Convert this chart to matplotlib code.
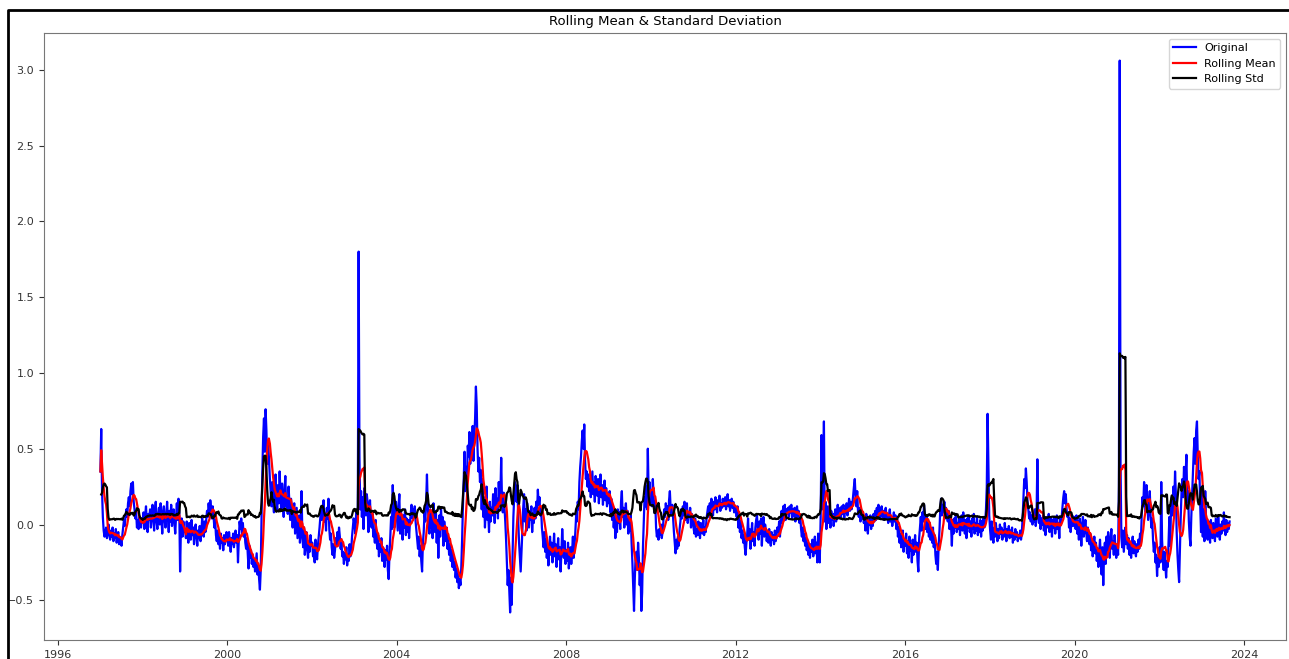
import pandas as pd
import matplotlib
matplotlib.use("Agg")
import matplotlib.pyplot as plt
import matplotlib.dates as mdates
from matplotlib.lines import Line2D

# weekly observations, one list per year starting with the first Friday
y1997 = [0.35, 0.63, 0.22, 0.05, -0.04, -0.08, -0.06, -0.02, -0.09, -0.05, 0.00, -0.07, -0.10,
         -0.04, -0.08, -0.02, -0.11, -0.06, -0.09, -0.03, -0.12, -0.08, -0.05, -0.13, -0.09, -0.11,
         -0.14, -0.07, -0.02, 0.03, -0.01, 0.06, 0.10, 0.05, 0.14, 0.18, 0.12, 0.22, 0.27,
         0.20, 0.28, 0.15, 0.10, 0.04, 0.08, -0.02, 0.03, -0.03, 0.05, 0.01, -0.02, 0.04]
y1998 = [0.02, 0.08, -0.03, 0.06, 0.12, 0.01, -0.05, 0.07, 0.03, 0.10, -0.02, 0.05, 0.13,
         0.04, -0.04, 0.09, 0.15, 0.02, -0.03, 0.06, 0.11, 0.00, 0.14, 0.05, -0.06, 0.08,
         0.12, 0.03, -0.02, 0.07, 0.15, 0.04, -0.05, 0.09, 0.02, 0.13, -0.01, 0.06, 0.10,
         0.01, -0.06, 0.05, 0.14, 0.03, 0.17, 0.08, -0.31, -0.02, 0.04, -0.08, 0.02, -0.05]
y1999 = [-0.03, -0.09, 0.02, -0.06, -0.12, 0.01, -0.04, -0.10, 0.03, -0.07, -0.02, -0.13, -0.05,
         0.00, -0.08, -0.14, -0.04, -0.09, -0.01, -0.11, -0.06, 0.04, -0.03, -0.08, 0.02, -0.05,
         0.03, 0.09, 0.05, 0.14, 0.08, 0.16, 0.11, 0.04, 0.12, 0.06, -0.02, 0.03, -0.07,
         -0.11, -0.04, -0.13, -0.08, -0.16, -0.06, -0.12, -0.09, -0.17, -0.07, -0.13, -0.10, -0.05]
y2000 = [-0.08, -0.14, -0.05, -0.11, -0.18, -0.09, -0.13, -0.06, -0.15, -0.10, -0.04, -0.12, -0.07,
         -0.25, -0.10, 0.02, -0.03, 0.04, -0.06, 0.01, -0.08, -0.03, -0.12, -0.16, -0.09, -0.19,
         -0.29, -0.14, -0.22, -0.17, -0.26, -0.20, -0.28, -0.23, -0.31, -0.25, -0.19, -0.33, -0.27,
         -0.36, -0.43, -0.30, 0.05, 0.35, 0.58, 0.70, 0.48, 0.76, 0.62, 0.40, 0.55, 0.45]
y2001 = [0.30, 0.22, 0.12, 0.28, 0.15, 0.08, 0.24, 0.33, 0.18, 0.10, 0.26, 0.14, 0.35,
         0.20, 0.09, 0.27, 0.16, 0.05, 0.22, 0.32, 0.12, 0.18, 0.07, 0.25, 0.15, 0.03,
         0.17, 0.10, -0.02, 0.08, 0.14, -0.06, 0.03, 0.11, -0.09, -0.01, 0.06, -0.12, -0.04,
         0.22, -0.08, -0.15, -0.02, -0.20, -0.10, -0.05, -0.17, -0.22, -0.11, -0.18, -0.07, -0.14]
y2002 = [-0.12, -0.21, -0.16, -0.25, -0.10, -0.19, -0.23, -0.14, -0.08, -0.02, 0.05, 0.12, 0.03,
         0.09, 0.16, 0.02, 0.07, -0.04, 0.11, 0.04, 0.17, -0.03, -0.10, -0.06, -0.15, -0.20,
         -0.13, -0.22, -0.17, -0.09, -0.14, -0.05, -0.11, -0.02, -0.08, -0.16, -0.12, -0.21, -0.18,
         -0.26, -0.19, -0.23, -0.15, -0.27, -0.20, -0.24, -0.13, -0.21, -0.17, -0.08, -0.02, 0.04]
y2003 = [0.00, -0.06, 0.08, 0.02, 0.12, 1.80, 0.45, 0.10, 0.22, 0.05, 0.18, -0.03, 0.24,
         0.12, 0.06, 0.20, 0.15, -0.05, 0.08, 0.16, 0.02, -0.02, 0.07, -0.08, -0.04, -0.12,
         0.03, -0.10, -0.16, -0.07, -0.21, -0.13, -0.18, -0.09, -0.24, -0.15, -0.20, -0.28, -0.17,
         -0.23, -0.14, -0.30, -0.36, -0.19, -0.08, 0.05, -0.03, 0.26, 0.10, -0.02, 0.08, 0.15]
y2004 = [0.05, -0.04, 0.12, 0.20, -0.06, 0.08, 0.02, -0.10, 0.06, -0.02, 0.10, -0.07, 0.04,
         -0.05, 0.03, -0.09, 0.01, 0.07, 0.13, 0.04, 0.10, 0.06, 0.12, 0.02, -0.04, -0.10,
         -0.16, -0.08, -0.21, -0.14, -0.24, -0.31, -0.12, -0.05, 0.08, 0.02, 0.15, 0.33, 0.12,
         0.04, -0.06, 0.10, -0.02, 0.07, -0.09, 0.14, 0.01, -0.05, 0.09, -0.12, 0.03, -0.22]
y2005 = [0.06, -0.08, 0.11, -0.03, 0.05, -0.14, 0.02, -0.06, -0.11, -0.02, -0.16, -0.09, -0.20,
         -0.13, -0.24, -0.17, -0.28, -0.21, -0.30, -0.25, -0.35, -0.29, -0.38, -0.33, -0.42, -0.36,
         -0.40, -0.28, -0.10, 0.12, 0.30, 0.48, 0.22, 0.38, 0.30, 0.52, 0.45, 0.61, 0.40,
         0.55, 0.48, 0.65, 0.42, 0.58, 0.70, 0.91, 0.78, 0.50, 0.35, 0.44, 0.28, 0.36]
y2006 = [0.10, 0.30, 0.05, 0.18, -0.02, 0.12, 0.25, 0.03, 0.08, -0.05, 0.15, 0.02, 0.11,
         0.06, 0.20, 0.13, 0.01, 0.24, 0.09, 0.17, 0.04, 0.28, 0.12, 0.19, 0.44, 0.15,
         0.08, 0.21, 0.12, 0.02, -0.10, -0.25, -0.40, -0.30, -0.45, -0.58, -0.35, -0.53, -0.20,
         0.05, 0.18, 0.28, 0.22, 0.15, 0.26, 0.02, -0.12, -0.22, -0.31, -0.18, -0.05, 0.10]
y2007 = [0.20, 0.02, 0.10, -0.04, 0.14, 0.06, -0.02, 0.09, 0.03, 0.12, -0.05, 0.07, 0.01,
         0.11, 0.04, 0.15, 0.08, 0.23, 0.13, 0.18, 0.06, 0.10, -0.02, -0.08, -0.15, -0.05,
         -0.18, -0.10, -0.22, -0.14, -0.27, -0.16, -0.08, -0.20, -0.12, -0.25, -0.17, -0.06, -0.21,
         -0.13, -0.28, -0.18, -0.09, -0.23, -0.15, -0.31, -0.19, -0.03, -0.14, -0.22, -0.11, -0.26]
y2008 = [-0.17, -0.24, -0.12, -0.29, -0.20, -0.15, -0.26, -0.18, -0.08, -0.22, -0.14, -0.05, 0.06,
         0.02, 0.15, 0.10, 0.28, 0.38, 0.45, 0.55, 0.62, 0.50, 0.66, 0.42, 0.30, 0.35,
         0.25, 0.33, 0.22, 0.30, 0.18, 0.27, 0.35, 0.20, 0.28, 0.15, 0.32, 0.24, 0.19,
         0.30, 0.14, 0.25, 0.33, 0.18, 0.26, 0.13, 0.22, 0.29, 0.16, 0.24, 0.12, 0.20]
y2009 = [0.14, 0.22, 0.08, 0.17, 0.03, 0.12, -0.02, 0.06, -0.09, 0.04, -0.05, 0.10, 0.01,
         0.08, -0.03, 0.15, 0.22, 0.05, 0.11, -0.02, 0.07, 0.14, 0.00, 0.09, -0.06, 0.03,
         -0.04, 0.06, -0.12, -0.25, -0.42, -0.57, -0.35, -0.20, -0.18, -0.30, -0.12, -0.22, -0.40,
         -0.28, -0.57, -0.45, -0.15, 0.02, 0.18, 0.12, 0.25, 0.10, 0.50, 0.20, 0.28, 0.15]
y2010 = [0.22, 0.12, 0.30, 0.18, 0.08, 0.15, -0.02, -0.08, -0.04, -0.10, -0.03, -0.07, 0.00,
         -0.09, -0.05, 0.02, 0.10, 0.05, 0.14, 0.08, 0.12, 0.03, 0.16, 0.22, 0.10, 0.06,
         0.13, 0.04, -0.05, -0.12, -0.19, -0.10, -0.16, -0.08, -0.14, -0.03, 0.02, 0.10, 0.04,
         0.12, 0.06, 0.15, 0.03, 0.09, 0.14, 0.01, 0.08, 0.05, 0.11, -0.02, 0.07, 0.04]
y2011 = [-0.02, -0.06, 0.04, -0.08, -0.03, -0.07, 0.02, -0.05, -0.09, 0.01, -0.04, -0.06, 0.03,
         -0.07, -0.02, -0.05, 0.04, 0.08, 0.12, 0.05, 0.14, 0.09, 0.17, 0.11, 0.06, 0.15,
         0.10, 0.18, 0.12, 0.08, 0.16, 0.13, 0.19, 0.09, 0.14, 0.11, 0.17, 0.12, 0.15,
         0.18, 0.10, 0.14, 0.20, 0.12, 0.16, 0.09, 0.13, 0.17, 0.11, 0.15, 0.08, 0.12]
y2012 = [0.10, 0.05, 0.12, -0.02, 0.06, -0.05, 0.02, -0.09, -0.04, -0.12, -0.07, -0.15, -0.20,
         -0.12, -0.06, 0.04, -0.10, -0.03, -0.16, -0.08, 0.01, -0.11, -0.05, -0.14, -0.02, 0.03,
         0.06, -0.03, -0.10, 0.02, -0.06, 0.04, -0.14, -0.01, 0.05, -0.08, 0.00, -0.04, -0.11,
         -0.06, -0.12, -0.03, -0.09, -0.14, -0.05, -0.10, -0.07, -0.13, -0.04, -0.11, -0.08, -0.02]
y2013 = [-0.05, 0.02, -0.08, 0.04, 0.09, 0.01, 0.12, 0.06, 0.13, 0.03, 0.10, 0.07, 0.11,
         0.05, 0.12, 0.08, 0.13, 0.04, 0.10, 0.06, 0.11, 0.02, 0.08, 0.12, 0.05, 0.09,
         0.01, 0.06, -0.03, -0.08, -0.02, -0.11, -0.06, -0.14, -0.09, -0.17, -0.12, -0.20, -0.15,
         -0.22, -0.13, -0.18, -0.10, -0.21, -0.16, -0.08, -0.19, -0.12, -0.25, -0.06, -0.18, -0.25]
y2014 = [0.05, 0.59, 0.10, 0.20, 0.68, 0.02, 0.15, -0.03, 0.08, 0.12, 0.01, 0.06, -0.02,
         0.09, 0.03, 0.07, -0.01, 0.05, 0.10, 0.02, 0.06, 0.13, 0.04, 0.09, 0.11, 0.05,
         0.12, 0.07, 0.13, 0.04, 0.10, 0.08, 0.14, 0.06, 0.11, 0.17, 0.09, 0.15, 0.10,
         0.13, 0.19, 0.25, 0.30, 0.18, 0.12, 0.22, 0.08, 0.05, 0.11, 0.02, 0.07, 0.04]
y2015 = [0.08, 0.01, 0.05, -0.04, 0.07, 0.02, -0.06, 0.04, 0.00, 0.06, -0.03, 0.05, -0.01,
         0.07, 0.02, 0.09, 0.03, 0.11, 0.06, 0.13, 0.08, 0.04, 0.10, 0.12, 0.05, 0.09,
         0.03, 0.08, 0.11, 0.04, 0.07, 0.01, 0.06, 0.10, 0.02, 0.05, -0.01, 0.03, 0.08,
         0.02, 0.06, -0.03, 0.04, -0.08, -0.02, -0.12, -0.06, -0.15, -0.09, -0.04, -0.18, -0.10]
y2016 = [-0.14, -0.06, -0.19, -0.11, -0.22, -0.08, -0.17, -0.13, -0.25, -0.10, -0.20, -0.15, -0.07,
         -0.18, -0.12, -0.24, -0.31, -0.09, -0.02, 0.05, -0.04, 0.08, 0.02, 0.13, 0.04, -0.03,
         0.06, -0.05, 0.03, -0.08, 0.01, -0.10, -0.04, -0.12, -0.02, -0.15, -0.07, -0.20, -0.26,
         -0.18, -0.30, -0.14, -0.04, 0.10, 0.17, 0.06, 0.13, 0.08, 0.15, 0.04, 0.11, 0.06]
y2017 = [0.02, 0.09, -0.03, 0.05, -0.01, -0.14, 0.03, -0.06, 0.04, -0.02, 0.07, -0.05, 0.01,
         -0.03, 0.05, -0.07, 0.02, 0.06, -0.04, 0.08, 0.00, -0.06, 0.03, -0.09, 0.04, -0.02,
         0.06, -0.05, 0.02, -0.08, 0.04, -0.03, 0.07, -0.06, 0.01, -0.04, 0.05, -0.07, 0.00,
         -0.05, 0.03, -0.08, 0.02, -0.04, 0.05, -0.02, 0.01, 0.10, 0.25, 0.73, 0.40, 0.06]
y2018 = [-0.04, -0.10, 0.02, -0.07, -0.12, -0.02, -0.08, 0.01, -0.05, -0.11, -0.03, -0.09, 0.00,
         -0.06, -0.02, -0.10, -0.04, -0.08, 0.01, -0.05, -0.11, -0.03, -0.07, -0.01, -0.09, -0.04,
         -0.08, -0.02, -0.12, -0.06, -0.10, -0.03, -0.08, -0.05, -0.11, -0.07, -0.09, -0.04, -0.10,
         -0.06, 0.05, 0.18, 0.30, 0.24, 0.37, 0.28, 0.15, 0.10, 0.04, 0.08, 0.02, 0.06]
y2019 = [0.00, 0.07, 0.02, 0.10, -0.01, 0.05, 0.43, 0.08, 0.01, 0.06, -0.03, 0.04, 0.00,
         0.06, -0.04, 0.03, -0.07, 0.02, 0.05, -0.02, 0.07, -0.05, 0.01, 0.04, -0.08, 0.03,
         -0.02, 0.05, -0.06, 0.02, 0.06, -0.03, 0.01, -0.09, 0.04, 0.00, 0.05, 0.12, 0.18,
         0.22, 0.14, 0.20, 0.10, 0.05, 0.08, -0.02, 0.04, -0.05, 0.02, 0.06, -0.01, 0.03]
y2020 = [0.05, -0.03, 0.06, -0.06, 0.02, -0.10, 0.04, -0.02, -0.14, 0.00, 0.05, -0.08, -0.03,
         0.03, -0.05, -0.11, -0.02, -0.09, -0.13, -0.06, -0.17, -0.10, -0.21, -0.14, -0.08, -0.19,
         -0.12, -0.24, -0.16, -0.28, -0.18, -0.10, -0.22, -0.33, -0.15, -0.40, -0.20, -0.12, -0.26,
         -0.08, -0.18, -0.05, -0.13, -0.22, -0.09, -0.03, -0.16, -0.11, -0.20, -0.07, -0.15, -0.22]
y2021 = [-0.14, -0.20, 0.25, 3.06, 0.40, -0.08, -0.15, -0.04, -0.18, -0.10, -0.02, -0.13, -0.07,
         -0.16, -0.09, -0.20, -0.12, -0.22, -0.14, -0.08, -0.19, -0.11, -0.17, -0.21, -0.13, -0.18,
         -0.10, -0.16, -0.06, -0.12, 0.05, 0.18, 0.12, 0.28, 0.20, 0.08, 0.26, 0.15, 0.03,
         0.12, 0.22, 0.06, -0.02, 0.04, -0.10, -0.18, -0.12, -0.25, -0.20, -0.34, -0.22, -0.28]
y2022 = [-0.15, -0.25, 0.28, -0.10, -0.22, -0.30, -0.18, -0.26, -0.35, -0.24, -0.28, -0.12, 0.05,
         -0.14, 0.10, 0.18, 0.06, 0.25, 0.12, 0.35, 0.20, -0.05, -0.20, -0.30, -0.38, -0.15,
         0.05, 0.22, 0.30, 0.18, 0.38, 0.25, 0.33, 0.46, 0.15, 0.22, 0.02, -0.08, -0.14,
         0.05, 0.20, 0.35, 0.48, 0.57, 0.40, 0.62, 0.68, 0.45, 0.30, 0.35, 0.12, -0.05]
y2023 = [0.25, -0.08, 0.10, -0.11, 0.22, 0.04, -0.06, -0.10, 0.02, -0.07, -0.12, 0.03, -0.05,
         -0.09, 0.01, -0.04, -0.11, 0.04, -0.02, -0.08, 0.06, -0.03, -0.10, 0.00, -0.06, 0.02,
         -0.04, 0.08, -0.02, -0.07, 0.03, -0.05, 0.01, -0.03, 0.02]

yearly = {1997: y1997, 1998: y1998, 1999: y1999, 2000: y2000, 2001: y2001,
          2002: y2002, 2003: y2003, 2004: y2004, 2005: y2005, 2006: y2006,
          2007: y2007, 2008: y2008, 2009: y2009, 2010: y2010, 2011: y2011,
          2012: y2012, 2013: y2013, 2014: y2014, 2015: y2015, 2016: y2016,
          2017: y2017, 2018: y2018, 2019: y2019, 2020: y2020, 2021: y2021,
          2022: y2022, 2023: y2023}

parts = []
for year, vals in yearly.items():
    idx = pd.date_range(f"{year}-01-03", periods=len(vals), freq="7D")
    parts.append(pd.Series(vals, index=idx))
timeseries = pd.concat(parts)

# rolling statistics
window = 8
rolmean = timeseries.rolling(window, min_periods=1).mean()
rolstd = timeseries.rolling(window, min_periods=2).std()

fig = plt.figure(figsize=(12.89, 6.59), dpi=100)
ax = fig.add_axes([0.0341, 0.0288, 0.9636, 0.9211])

ax.plot(timeseries, color="blue", linewidth=1.6, label="Original")
ax.plot(rolmean, color="red", linewidth=1.6, label="Rolling Mean")
ax.plot(rolstd, color="black", linewidth=1.6, label="Rolling Std")

ax.xaxis.set_major_locator(mdates.YearLocator(4))
ax.xaxis.set_major_formatter(mdates.DateFormatter("%Y"))
ax.tick_params(labelsize=8, colors="#333333")
for sp in ax.spines.values():
    sp.set_color("#777777")

ax.legend(loc="upper right", fontsize=8)
ax.set_title("Rolling Mean & Standard Deviation", fontsize=9.5)

# frame around the output cell
fig.add_artist(Line2D([0.0062, 0.0062, 1.0], [0.0, 0.9848, 0.9848],
                      transform=fig.transFigure, color="black", linewidth=2))

fig.savefig("out.png", dpi=100)
